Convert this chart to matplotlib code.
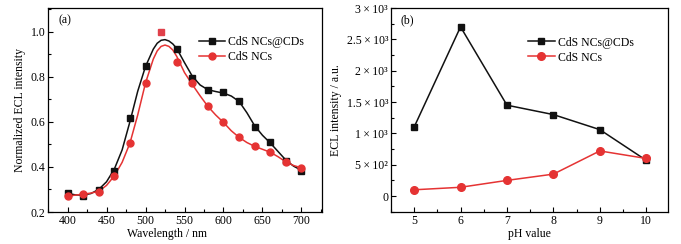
import matplotlib
matplotlib.use("Agg")
import matplotlib.pyplot as plt
from matplotlib.ticker import MultipleLocator, FixedLocator, FixedFormatter

plt.rcParams['font.family'] = ['Liberation Serif', 'DejaVu Serif']
plt.rcParams['font.size'] = 8.5

# (a) normalized ECL spectra - marker points
wl = [400, 420, 440, 460, 480, 500, 540, 560, 580, 600, 620, 640, 660, 680, 700]
cds_cd_pts = [0.283, 0.272, 0.298, 0.384, 0.615, 0.849, 0.923, 0.796, 0.739, 0.731, 0.693, 0.576, 0.511, 0.425, 0.383]
cds_pts = [0.269, 0.280, 0.291, 0.359, 0.505, 0.774, 0.864, 0.770, 0.668, 0.597, 0.531, 0.491, 0.467, 0.420, 0.396]
peak_wl = 520
peak_val = 1.0

# (a) smoothed curves
curve_wl = [400, 410, 420, 430, 440, 450, 460, 470, 480, 490, 500, 510, 515, 520, 525,
            530, 535, 540, 550, 560, 570, 580, 590, 600, 610, 620, 630, 640, 650, 660,
            670, 680, 690, 700]
cds_cd_curve = [0.283, 0.276, 0.275, 0.282, 0.300, 0.334, 0.390, 0.475, 0.600, 0.735, 0.845,
                0.922, 0.948, 0.961, 0.964, 0.958, 0.945, 0.925, 0.862, 0.802, 0.763, 0.742,
                0.734, 0.727, 0.714, 0.690, 0.640, 0.582, 0.540, 0.506, 0.468, 0.430, 0.403, 0.385]
cds_curve = [0.270, 0.275, 0.279, 0.284, 0.292, 0.318, 0.360, 0.420, 0.505, 0.630, 0.772,
             0.878, 0.914, 0.934, 0.940, 0.934, 0.918, 0.890, 0.818, 0.765, 0.715, 0.668,
             0.630, 0.597, 0.560, 0.531, 0.508, 0.491, 0.478, 0.465, 0.445, 0.422, 0.406, 0.396]

# (b) ECL intensity vs pH
ph = [5, 6, 7, 8, 9, 10]
cds_cd_ph = [1100, 2700, 1450, 1300, 1060, 570]
cds_ph = [100, 140, 250, 350, 720, 600]
ytick_vals = [0, 500, 1000, 1500, 2000, 2500, 3000]
ytick_labels = ['0', '5\u2009×\u200910²', '1\u2009×\u200910³', '1.5\u2009×\u200910³',
                '2\u2009×\u200910³', '2.5\u2009×\u200910³', '3\u2009×\u200910³']

black = '#111111'
red = '#e53333'

fig = plt.figure(figsize=(6.81, 2.44), dpi=100)
ax1 = fig.add_axes([0.0705, 0.131, 0.402, 0.837])
ax2 = fig.add_axes([0.574, 0.131, 0.407, 0.836])

# panel (a)
ax1.plot(curve_wl, cds_cd_curve, color=black, lw=1.1)
ax1.plot(curve_wl, cds_curve, color=red, lw=1.1)
ax1.plot(wl, cds_cd_pts, 's', color=black, ms=4.5)
ax1.plot(wl, cds_pts, 'o', color=red, ms=5)
ax1.plot([peak_wl], [peak_val], 's', color='#e0404a', ms=4.5)
ax1.plot([], [], '-s', color=black, lw=1.1, ms=4.5, label='CdS NCs@CDs')
ax1.plot([], [], '-o', color=red, lw=1.1, ms=5, label='CdS NCs')
ax1.set_xlim(375, 726)
ax1.set_ylim(0.2, 1.105)
ax1.xaxis.set_major_locator(MultipleLocator(50))
ax1.xaxis.set_minor_locator(MultipleLocator(25))
ax1.yaxis.set_major_locator(FixedLocator([0.2, 0.4, 0.6, 0.8, 1.0]))
ax1.yaxis.set_major_formatter(FixedFormatter(['0.2', '0.4', '0.6', '0.8', '1.0']))
ax1.yaxis.set_minor_locator(MultipleLocator(0.1))
ax1.set_xlabel('Wavelength / nm', labelpad=1, x=0.435)
ax1.set_ylabel('Normalized ECL intensity', labelpad=3)
ax1.text(0.038, 0.925, '(a)', transform=ax1.transAxes)
ax1.legend(loc='upper left', bbox_to_anchor=(0.552, 0.86), frameon=False,
           handlelength=2.2, handletextpad=0.25, labelspacing=0.25,
           borderaxespad=0, borderpad=0)

# panel (b)
ax2.plot(ph, cds_cd_ph, '-s', color=black, lw=1.1, ms=5, label='CdS NCs@CDs')
ax2.plot(ph, cds_ph, '-o', color=red, lw=1.1, ms=5.5, label='CdS NCs')
ax2.set_xlim(4.5, 10.47)
ax2.set_ylim(-255, 3000)
ax2.xaxis.set_major_locator(MultipleLocator(1))
ax2.xaxis.set_minor_locator(MultipleLocator(0.5))
ax2.yaxis.set_major_locator(FixedLocator(ytick_vals))
ax2.yaxis.set_major_formatter(FixedFormatter(ytick_labels))
ax2.yaxis.set_minor_locator(MultipleLocator(250))
ax2.set_xlabel('pH value', labelpad=1)
ax2.set_ylabel('ECL intensity / a.u.', labelpad=3)
ax2.text(0.035, 0.925, '(b)', transform=ax2.transAxes)
ax2.legend(loc='upper left', bbox_to_anchor=(0.493, 0.86), frameon=False,
           handlelength=2.3, handletextpad=0.25, labelspacing=0.25,
           borderaxespad=0, borderpad=0)

for ax in (ax1, ax2):
    ax.tick_params(which='both', direction='in', labelsize=8.5, pad=2)
    ax.tick_params(which='major', length=3.5, width=0.8)
    ax.tick_params(which='minor', length=2, width=0.8)
    for s in ax.spines.values():
        s.set_linewidth(0.9)

fig.savefig('out.png', dpi=100)
